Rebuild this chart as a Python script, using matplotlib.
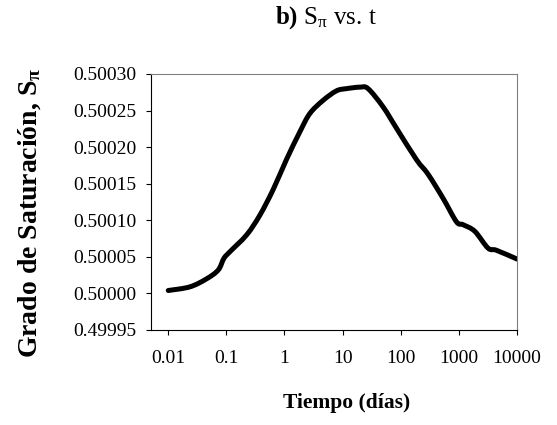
import numpy as np
import matplotlib
matplotlib.use('Agg')
import matplotlib.pyplot as plt
from matplotlib.path import Path
from matplotlib.patches import PathPatch

# #############################################################################
# Data (tiempo en dias, grado de saturacion)
t_dias = [0.01, 0.0236, 0.0457, 0.0724, 0.0908, 0.115, 0.223, 0.377, 0.638,
          1.08, 1.84, 2.73, 4.62, 7.85, 11.7, 19.8, 27.4, 49.7, 84.3, 186,
          295, 535, 908, 1178, 1875, 3170, 4430, 10000]
s_pi = [0.500004, 0.500009, 0.500020, 0.500032, 0.500048, 0.500057,
        0.500080, 0.500107, 0.500142, 0.500183, 0.500221, 0.500246,
        0.500264, 0.500277, 0.500280, 0.500282, 0.500280, 0.500255,
        0.500226, 0.500183, 0.500163, 0.500130, 0.500098, 0.500094,
        0.500085, 0.500062, 0.500059, 0.500047]

x_ticks = [0.01, 0.1, 1, 10, 100, 1000, 10000]
x_ticklabels = ['0.01', '0.1', '1', '10', '100', '1000', '10000']
y_ticks = [0.49995, 0.50000, 0.50005, 0.50010, 0.50015, 0.50020, 0.50025, 0.50030]


def smooth_path(xs, ys):
    # Excel-like smoothed line: Catmull-Rom segments as cubic Beziers,
    # built in log10(x) space so the shape is right on the log axis
    p = np.column_stack([np.log10(xs), ys])
    p = np.vstack([p[0], p, p[-1]])
    verts = [p[1]]
    codes = [Path.MOVETO]
    for i in range(1, len(p) - 2):
        c1 = p[i] + (p[i + 1] - p[i - 1]) / 6.0
        c2 = p[i + 1] - (p[i + 2] - p[i]) / 6.0
        verts += [c1, c2, p[i + 1]]
        codes += [Path.CURVE4] * 3
    verts = np.array(verts)
    verts[:, 0] = 10 ** verts[:, 0]
    return Path(verts, codes)


# #############################################################################
# Plot
plt.rcParams['font.family'] = 'Liberation Serif'
plt.rcParams['mathtext.fontset'] = 'custom'
plt.rcParams['mathtext.rm'] = 'Liberation Serif'
plt.rcParams['mathtext.it'] = 'Liberation Serif'
plt.rcParams['mathtext.bf'] = 'Liberation Serif:bold'

fig = plt.figure(figsize=(5.57, 4.25), dpi=100)
ax = fig.add_axes([151/557, 1 - 330/425, 366/557, 256/425])

curve = PathPatch(smooth_path(t_dias, s_pi), facecolor='none',
                  edgecolor='black', lw=3.6, capstyle='round',
                  joinstyle='round', transform=ax.transData)
ax.add_patch(curve)

ax.set_xscale('log')
ax.set_xlim(0.00505, 10000)
ax.set_ylim(0.49995, 0.50030)
ax.set_xticks(x_ticks)
ax.set_xticklabels(x_ticklabels)
ax.xaxis.set_minor_locator(matplotlib.ticker.NullLocator())
ax.set_yticks(y_ticks)
ax.set_yticklabels(['%.5f' % v for v in y_ticks])
ax.tick_params(axis='both', direction='out', length=3.6, width=0.8,
               labelsize=14, color='black')
ax.tick_params(axis='y', pad=7)
ax.tick_params(axis='x', pad=11)

for side in ['left', 'bottom']:
    ax.spines[side].set_color('black')
    ax.spines[side].set_linewidth(0.8)
for side in ['top', 'right']:
    ax.spines[side].set_color('#808080')
    ax.spines[side].set_linewidth(0.8)

fig.text(326/557, 1 - 18/425, r'$\mathbf{b)}$ S$_{\pi}$ vs. t', fontsize=18,
         ha='center', va='center')
fig.text(30/557, 1 - 213/425, r'Grado de Saturación, S$_{\mathbf{\pi}}$',
         fontsize=20, fontweight='bold', rotation=90, ha='center', va='center')
fig.text(347/557, 1 - 408/425, 'Tiempo (días)', fontsize=15.5,
         fontweight='bold', ha='center', va='baseline')

fig.savefig('out.png', dpi=100)
